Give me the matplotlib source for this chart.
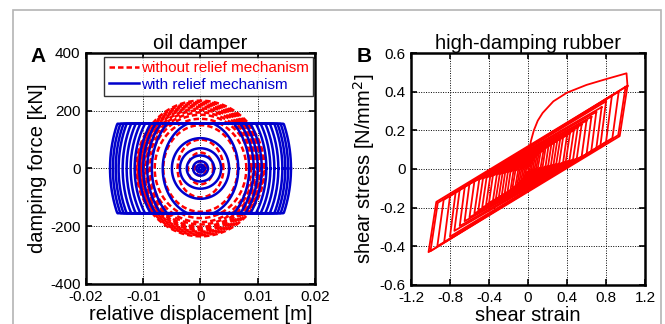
import numpy as np
import matplotlib
matplotlib.use("Agg")
import matplotlib.pyplot as plt
from matplotlib.patches import Rectangle

plt.rcParams['font.family'] = ['Liberation Sans', 'DejaVu Sans']

# --- panel A: oil damper loops (displacement amplitude [m], force amplitude [kN])
red_disp = [0.0112, 0.0110, 0.0108, 0.0106, 0.0104, 0.0102, 0.0099, 0.0096,
            0.0092, 0.0088, 0.0080, 0.0065, 0.0040, 0.0022, 0.0010, 0.0004]
red_force = [235, 231, 227, 223, 219, 214, 208, 202,
             194, 186, 172, 150, 100, 55, 25, 10]

blue_disp = [0.0158, 0.0153, 0.0148, 0.0143, 0.0136, 0.0129, 0.0122, 0.0115,
             0.0107, 0.0100, 0.0093, 0.0085, 0.0066, 0.0050, 0.0036, 0.0024,
             0.0013, 0.0007, 0.0003]
blue_force = [395, 383, 370, 358, 340, 323, 305, 288,
              268, 250, 233, 213, 165, 105, 70, 45,
              25, 14, 6]
relief_force = 155

# --- panel B: rubber loops (strain amplitude, stress at tip, stress at edge foot, edge width)
rub_amp = [1.02, 1.00, 0.93, 0.86, 0.80, 0.755, 0.70, 0.65, 0.60, 0.55, 0.51, 0.47, 0.43,
           0.40, 0.36, 0.33, 0.30, 0.27, 0.24, 0.21, 0.18, 0.16, 0.13, 0.11, 0.09, 0.07, 0.05, 0.03]
rub_top = [0.43, 0.425, 0.40, 0.38, 0.35, 0.32, 0.295, 0.27, 0.25, 0.23, 0.215, 0.20, 0.185,
           0.175, 0.165, 0.155, 0.148, 0.14, 0.13, 0.12, 0.11, 0.10, 0.09, 0.08, 0.07, 0.06, 0.045, 0.03]
rub_foot = [0.17, 0.175, 0.16, 0.14, 0.12, 0.105, 0.09, 0.075, 0.065, 0.055, 0.05, 0.045, 0.04,
            0.035, 0.03, 0.028, 0.024, 0.02, 0.018, 0.015, 0.012, 0.01, 0.008, 0.005, 0.003, 0.0, 0.0, 0.0]
rub_dx = [0.08, 0.075, 0.065, 0.06, 0.058, 0.055, 0.052, 0.05, 0.05, 0.05, 0.048, 0.045, 0.042,
          0.04, 0.04, 0.04, 0.038, 0.035, 0.033, 0.03, 0.03, 0.03, 0.028, 0.025, 0.022, 0.02, 0.017, 0.012]

# first loading curve
load_strain = [0.0, 0.005, 0.015, 0.03, 0.06, 0.10, 0.15, 0.26, 0.40, 0.60, 0.80, 1.01, 1.02]
load_stress = [0.0, 0.05, 0.10, 0.145, 0.20, 0.25, 0.29, 0.35, 0.395, 0.435, 0.465, 0.495, 0.43]

fig = plt.figure(figsize=(6.65, 3.24), dpi=100)
fig.patches.append(Rectangle((13 / 665, -0.1), 648 / 665, 1.1 - 10 / 324,
                             transform=fig.transFigure, fill=False,
                             edgecolor="#b4b4b4", lw=1.2))

axA = fig.add_axes([0.1293, 0.1235, 0.3444, 0.7130])
axB = fig.add_axes([0.618, 0.1204, 0.352, 0.716])

th = np.linspace(0, 2 * np.pi, 300)
for i, (a, b) in enumerate(zip(red_disp, red_force)):
    axA.plot(a * np.cos(th), b * np.sin(th), color="red", ls=(0, (2.2, 1.2)), lw=1.8,
             label="without relief mechanism" if i == 0 else None)
for i, (a, b) in enumerate(zip(blue_disp, blue_force)):
    axA.plot(a * np.cos(th), np.clip(b * np.sin(th), -relief_force, relief_force),
             color="#0000cc", lw=1.8, label="with relief mechanism" if i == 0 else None)

axA.set_xlim(-0.02, 0.02)
axA.set_ylim(-400, 400)
axA.set_xticks([-0.02, -0.01, 0, 0.01, 0.02])
axA.set_xticklabels(["-0.02", "-0.01", "0", "0.01", "0.02"])
axA.set_yticks([-400, -200, 0, 200, 400])
axA.set_yticklabels(["-400", "-200", "0", "200", "400"])
axA.set_xlabel("relative displacement [m]", fontsize=14.5, labelpad=1)
axA.set_ylabel("damping force [kN]", fontsize=14.5, labelpad=2)
axA.set_title("oil damper", fontsize=14.5, pad=3)
leg = axA.legend(loc="upper center", bbox_to_anchor=(0.535, 1.0), fontsize=11,
                 frameon=True, fancybox=False, edgecolor="black", handlelength=2.0,
                 handletextpad=0.1, borderpad=0.3, labelspacing=0.15, borderaxespad=0.25)
leg.get_frame().set_linewidth(1.0)
for t, c in zip(leg.get_texts(), ["red", "#0000cc"]):
    t.set_color(c)

for a, top, foot, dx in zip(rub_amp, rub_top, rub_foot, rub_dx):
    xs = [a, a - dx, -a, -a + dx, a]
    ys = [top, foot, -top, -foot, top]
    axB.plot(xs, ys, color="red", lw=1.3)
axB.plot(load_strain, load_stress, color="red", lw=1.3)

axB.set_xlim(-1.2, 1.2)
axB.set_ylim(-0.6, 0.6)
axB.set_xticks([-1.2, -0.8, -0.4, 0, 0.4, 0.8, 1.2])
axB.set_xticklabels(["-1.2", "-0.8", "-0.4", "0", "0.4", "0.8", "1.2"])
axB.set_yticks([-0.6, -0.4, -0.2, 0, 0.2, 0.4, 0.6])
axB.set_yticklabels(["-0.6", "-0.4", "-0.2", "0", "0.2", "0.4", "0.6"])
axB.set_xlabel("shear strain", fontsize=14.5, labelpad=1)
axB.set_ylabel("shear stress [N/mm$^2$]", fontsize=14.5, labelpad=2)
axB.set_title("high-damping rubber", fontsize=14.5, pad=3)

for ax in (axA, axB):
    ax.grid(True, color="black", ls=(0, (1, 1.5)), lw=0.7)
    ax.tick_params(direction="in", top=True, right=True, labelsize=11, length=4,
                   width=1.2, pad=4)
    for s in ax.spines.values():
        s.set_linewidth(1.8)

fig.text(30 / 665, 1 - 57 / 324, "A", fontsize=15, fontweight="bold", va="center")
fig.text(357 / 665, 1 - 57 / 324, "B", fontsize=15, fontweight="bold", va="center")

fig.savefig("out.png", dpi=100)
